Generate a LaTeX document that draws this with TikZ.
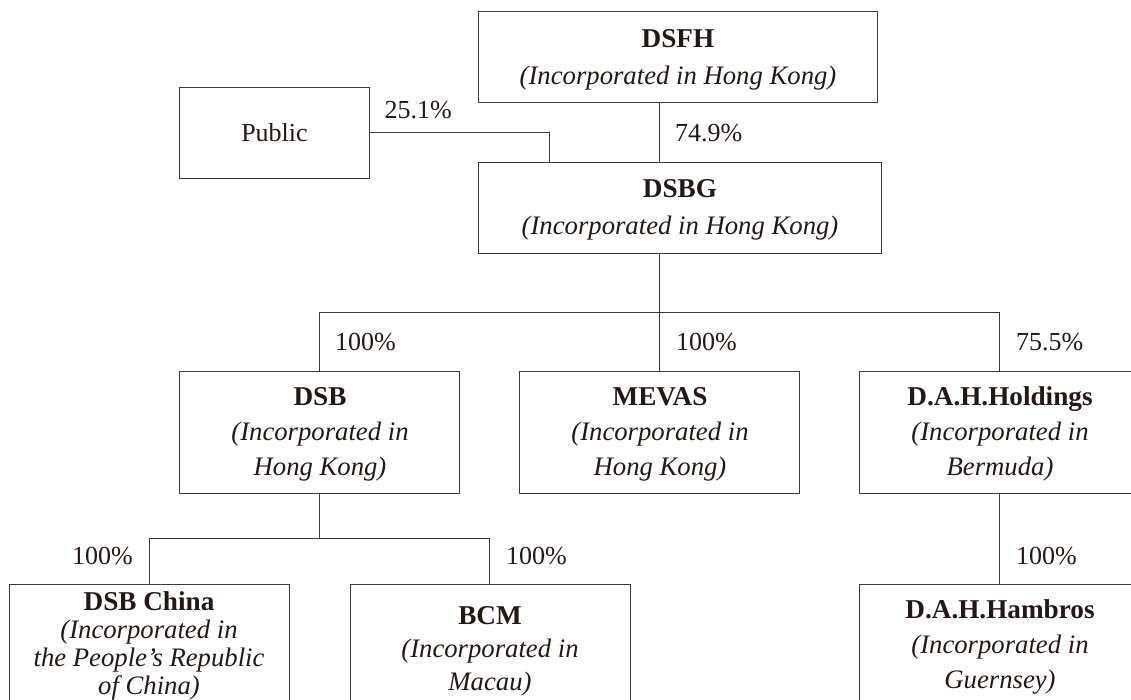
\documentclass[tikz,border=0pt]{standalone}
\usepackage{fontspec}
\setmainfont{Liberation Serif}
\definecolor{ink}{HTML}{231815}
\definecolor{rule}{HTML}{3E3936}
\newcommand{\hd}[1]{{\fontsize{27.2}{35}\selectfont\textbf{#1}}}
\newcommand{\sbt}[1]{{\fontsize{26.7}{35}\selectfont\textit{#1}}}
\begin{document}
\begin{tikzpicture}[x=1pt,y=-1pt,
 box/.style={draw=rule,line width=1.25pt,inner sep=0pt,align=center,font=\fontsize{26}{35}\selectfont,text=ink},
 wide/.style={box,font=\fontsize{26}{37}\selectfont,minimum height=91pt},
 tri/.style={box,minimum width=280pt,minimum height=122pt},
 lbl/.style={inner sep=0pt,align=center,text=ink},
 conn/.style={draw=rule,line width=1.25pt},
 pct/.style={font=\fontsize{26}{30}\selectfont,text=ink,inner sep=0pt}]
\useasboundingbox (0,0) rectangle (1131,700);
\node[wide,minimum width=399pt] (dsfh) at (678,57) {};
\node[lbl,font=\fontsize{26}{37}\selectfont] (dsfht) at (678,59.5) {\hd{DSFH}\\\sbt{(Incorporated in Hong Kong)}};
\node[wide,minimum width=190pt] (public) at (274.5,133) {Public};
\node[wide,minimum width=403pt] (dsbg) at (680,208) {};
\node[lbl,font=\fontsize{26}{37}\selectfont] (dsbgt) at (680,209.5) {\hd{DSBG}\\\sbt{(Incorporated in Hong Kong)}};
\node[tri] (dsb) at (319.5,432.5) {};
\node[lbl,font=\fontsize{26}{35}\selectfont] (dsbt) at (320,434.5) {\hd{DSB}\\\sbt{(Incorporated in}\\\sbt{Hong Kong)}};
\node[tri] (mevas) at (659.5,432.5) {};
\node[lbl,font=\fontsize{26}{35}\selectfont] (mevast) at (660,434.5) {\hd{MEVAS}\\\sbt{(Incorporated in}\\\sbt{Hong Kong)}};
\node[tri] (dah) at (999.5,432.5) {};
\node[lbl,font=\fontsize{26}{35}\selectfont] (daht) at (1000,433.5) {\hd{D.A.H.Holdings}\\\sbt{(Incorporated in}\\\sbt{Bermuda)}};
\node[tri] (china) at (149.5,645.5) {};
\node[lbl,font=\fontsize{26}{28}\selectfont] (chinat) at (149,646) {\hd{DSB China}\\\sbt{(Incorporated in}\\\sbt{the People's Republic}\\\sbt{of China)}};
\node[tri] (bcm) at (490.5,645.5) {};
\node[lbl,font=\fontsize{26}{33}\selectfont] (bcmt) at (490,651) {\hd{BCM}\\\sbt{(Incorporated in}\\\sbt{Macau)}};
\node[tri] (hambros) at (999.5,645.5) {};
\node[lbl,font=\fontsize{26}{35}\selectfont] (hambrost) at (1000,646.5) {\hd{D.A.H.Hambros}\\\sbt{(Incorporated in}\\\sbt{Guernsey)}};
\coordinate (pj) at (549.5,132.5);
\coordinate (bus) at (659.5,312.5);
\coordinate (bus2) at (319.5,538.5);
\coordinate (chj) at (149.5,538.5);
\coordinate (bcj) at (489.5,538.5);
\draw[conn] (dsfh.south -| bus) -- (dsbg.north -| bus);
\draw[conn] (public.east |- pj) -- (pj) -- (pj |- dsbg.north);
\draw[conn] (bus |- dsbg.south) -- (bus) -- (mevas.north -| bus);
\draw[conn] (dsb.north) -- (dsb.north |- bus) -- (dah.north |- bus) -- (dah.north);
\draw[conn] (dsb.south -| bus2) -- (bus2);
\draw[conn] (china.north -| chj) -- (chj) -- (bcj) -- (bcm.north -| bcj);
\draw[conn] (dah.south) -- (hambros.north);
\node[pct,anchor=west] (p1) at (384.5,110) {25.1\%};
\node[pct,anchor=west] (p2) at (675,133) {74.9\%};
\node[pct,anchor=west] (p3) at (335,342) {100\%};
\node[pct,anchor=west] (p4) at (676,342) {100\%};
\node[pct,anchor=west] (p5) at (1016,342) {75.5\%};
\node[pct,anchor=west] (p6) at (72,556) {100\%};
\node[pct,anchor=west] (p7) at (506,556) {100\%};
\node[pct,anchor=west] (p8) at (1016,556) {100\%};
\end{tikzpicture}
\end{document}
